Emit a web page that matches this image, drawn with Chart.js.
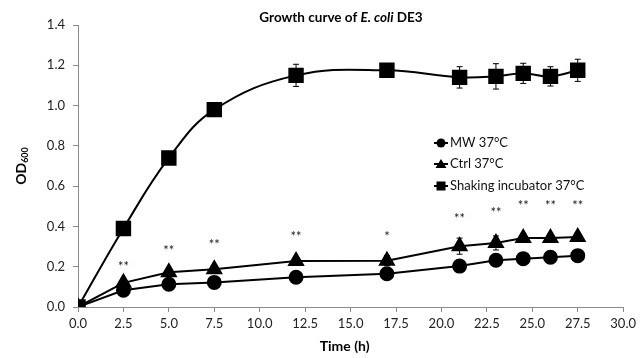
<!DOCTYPE html>
<html>
<head>
<meta charset="utf-8">
<script src="https://cdn.jsdelivr.net/npm/chart.js@4.4.1/dist/chart.umd.min.js"></script>
<style>
html,body{margin:0;padding:0;background:#fff;}
#c{display:block;}
</style>
</head>
<body>
<canvas id="c" width="640" height="358"></canvas>
<script>
// ---- data ----
const times = [0, 2.5, 5, 7.5, 12, 17, 21, 23, 24.5, 26, 27.5];
const mwValues = [0, 0.083, 0.113, 0.122, 0.148, 0.165, 0.203, 0.232, 0.240, 0.247, 0.255];
const ctrlValues = [0, 0.12, 0.172, 0.187, 0.228, 0.23, 0.302, 0.318, 0.343, 0.343, 0.348];
const shakingValues = [0, 0.39, 0.74, 0.98, 1.15, 1.175, 1.14, 1.145, 1.16, 1.145, 1.175];
const mwErrors = [0, 0.01, 0.008, 0.008, 0.01, 0.01, 0.012, 0.025, 0.01, 0.02, 0.012];
const ctrlErrors = [0, 0.01, 0.01, 0.01, 0.012, 0.025, 0.04, 0.035, 0.02, 0.012, 0.02];
const shakingErrors = [0, 0.01, 0.01, 0.015, 0.055, 0.015, 0.053, 0.063, 0.05, 0.048, 0.055];
const seriesNames = ['MW 37°C', 'Ctrl 37°C', 'Shaking incubator 37°C'];
const sigTimes = [2.5, 5, 7.5, 12, 17, 21, 23, 24.5, 26, 27.5];
const sigLabels = ['**', '**', '**', '**', '*', '**', '**', '**', '**', '**'];
const sigLevels = [0.21, 0.29, 0.32, 0.36, 0.36, 0.45, 0.48, 0.51, 0.51, 0.51];
const xTicks = [0, 2.5, 5, 7.5, 10, 12.5, 15, 17.5, 20, 22.5, 25, 27.5, 30];
const yTicks = [0, 0.2, 0.4, 0.6, 0.8, 1.0, 1.2, 1.4];

const FONT = 'Lato, "Open Sans", sans-serif';
const toPts = (vals) => times.map((t, i) => ({x: t, y: vals[i]}));
const errorSets = [mwErrors, ctrlErrors, shakingErrors];

const errorBars = {
  id: 'errorBars',
  beforeDatasetsDraw(chart) {
    const ctx = chart.ctx, xs = chart.scales.x, ys = chart.scales.y;
    ctx.save();
    ctx.strokeStyle = '#000';
    ctx.lineWidth = 1;
    chart.data.datasets.forEach((ds, di) => {
      const errs = errorSets[di];
      ds.data.forEach((p, i) => {
        const e = errs[i];
        if (!e) return;
        const x = xs.getPixelForValue(p.x);
        const y1 = ys.getPixelForValue(p.y + e);
        const y2 = ys.getPixelForValue(p.y - e);
        ctx.beginPath();
        ctx.moveTo(x, y1); ctx.lineTo(x, y2);
        ctx.moveTo(x - 3, y1); ctx.lineTo(x + 3, y1);
        ctx.moveTo(x - 3, y2); ctx.lineTo(x + 3, y2);
        ctx.stroke();
      });
    });
    ctx.restore();
  }
};

const annotations = {
  id: 'annotations',
  afterDraw(chart) {
    const ctx = chart.ctx, xs = chart.scales.x, ys = chart.scales.y;
    const area = chart.chartArea;
    ctx.save();
    // significance marks
    ctx.fillStyle = '#222';
    ctx.font = '13px ' + FONT;
    ctx.textAlign = 'center';
    ctx.textBaseline = 'middle';
    sigTimes.forEach((t, i) => {
      ctx.fillText(sigLabels[i], xs.getPixelForValue(t), ys.getPixelForValue(sigLevels[i]) + 2);
    });

    // title with italic part
    ctx.fillStyle = '#000';
    ctx.textBaseline = 'middle';
    ctx.textAlign = 'left';
    const parts = [
      ['bold 13.5px ' + FONT, 'Growth curve of '],
      ['italic bold 13.5px ' + FONT, 'E. coli'],
      ['bold 13.5px ' + FONT, ' DE3']
    ];
    let total = 0;
    parts.forEach(p => { ctx.font = p[0]; total += ctx.measureText(p[1]).width; });
    let tx = 341 - total / 2;
    parts.forEach(p => { ctx.font = p[0]; ctx.fillText(p[1], tx, 18); tx += ctx.measureText(p[1]).width; });

    // x axis title
    ctx.font = 'bold 14px ' + FONT;
    ctx.textAlign = 'center';
    ctx.fillText('Time (h)', (area.left + area.right) / 2 - 6, 346);

    // y axis title with subscript
    ctx.save();
    ctx.translate(21, 166);
    ctx.rotate(-Math.PI / 2);
    ctx.font = 'bold 14px ' + FONT;
    const w1 = ctx.measureText('OD').width;
    ctx.font = 'bold 9px ' + FONT;
    const w2 = ctx.measureText('600').width;
    ctx.textAlign = 'left';
    ctx.font = 'bold 14px ' + FONT;
    ctx.fillText('OD', -(w1 + w2) / 2, 0);
    ctx.font = 'bold 9px ' + FONT;
    ctx.fillText('600', -(w1 + w2) / 2 + w1, 4);
    ctx.restore();

    // legend
    const lx = 441, rows = [143, 164, 186];
    chart.data.datasets.forEach((ds, i) => {
      const y = rows[i];
      ctx.strokeStyle = '#000';
      ctx.lineWidth = 2;
      ctx.beginPath();
      ctx.moveTo(lx - 7, y); ctx.lineTo(lx + 7, y);
      ctx.stroke();
      ctx.fillStyle = '#000';
      ctx.beginPath();
      if (ds.pointStyle === 'circle') {
        ctx.arc(lx, y, 4.5, 0, Math.PI * 2);
      } else if (ds.pointStyle === 'triangle') {
        ctx.moveTo(lx, y - 5); ctx.lineTo(lx + 5.5, y + 4); ctx.lineTo(lx - 5.5, y + 4); ctx.closePath();
      } else {
        ctx.rect(lx - 4.5, y - 4.5, 9, 9);
      }
      ctx.fill();
      ctx.font = '13px ' + FONT;
      ctx.textAlign = 'left';
      ctx.textBaseline = 'middle';
      ctx.fillStyle = '#111';
      ctx.fillText(ds.label, lx + 9, y);
    });
    ctx.restore();
  }
};

new Chart(document.getElementById('c'), {
  type: 'scatter',
  data: {
    datasets: [
      {label: seriesNames[0], data: toPts(mwValues), order: 2, showLine: true, borderColor: '#000', backgroundColor: '#000', borderWidth: 2, pointStyle: 'circle', pointRadius: 6.5, tension: 0},
      {label: seriesNames[1], data: toPts(ctrlValues), order: 1, showLine: true, borderColor: '#000', backgroundColor: '#000', borderWidth: 2, pointStyle: 'triangle', pointRadius: 8, tension: 0},
      {label: seriesNames[2], data: toPts(shakingValues), order: 0, showLine: true, borderColor: '#000', backgroundColor: '#000', borderWidth: 2, pointStyle: 'rect', pointRadius: 9.5, tension: 0.4}
    ]
  },
  options: {
    responsive: false,
    animation: false,
    devicePixelRatio: 1,
    layout: {padding: {left: 0, right: 16, top: 25, bottom: 0}},
    plugins: {legend: {display: false}, title: {display: false}, tooltip: {enabled: false}},
    scales: {
      x: {
        type: 'linear', min: 0, max: 30,
        afterBuildTicks: (s) => { s.ticks = xTicks.map(v => ({value: v})); },
        afterFit: (s) => { s.height = 51; },
        ticks: {callback: (v) => Number(v).toFixed(1), color: '#222', font: {family: FONT, size: 13}, padding: 4, maxRotation: 0, autoSkip: false},
        grid: {display: true, drawOnChartArea: false, drawTicks: true, tickLength: 5, color: '#8a8a8a'},
        border: {color: '#8a8a8a', width: 1}
      },
      y: {
        type: 'linear', min: 0, max: 1.4,
        afterBuildTicks: (s) => { s.ticks = yTicks.map(v => ({value: v})); },
        afterFit: (s) => { s.width = 78; },
        ticks: {callback: (v) => Number(v).toFixed(1), color: '#222', font: {family: FONT, size: 13}, padding: 8},
        grid: {display: true, drawOnChartArea: false, drawTicks: true, tickLength: 5, color: '#8a8a8a'},
        border: {color: '#8a8a8a', width: 1}
      }
    }
  },
  plugins: [errorBars, annotations]
});
</script>
</body>
</html>
